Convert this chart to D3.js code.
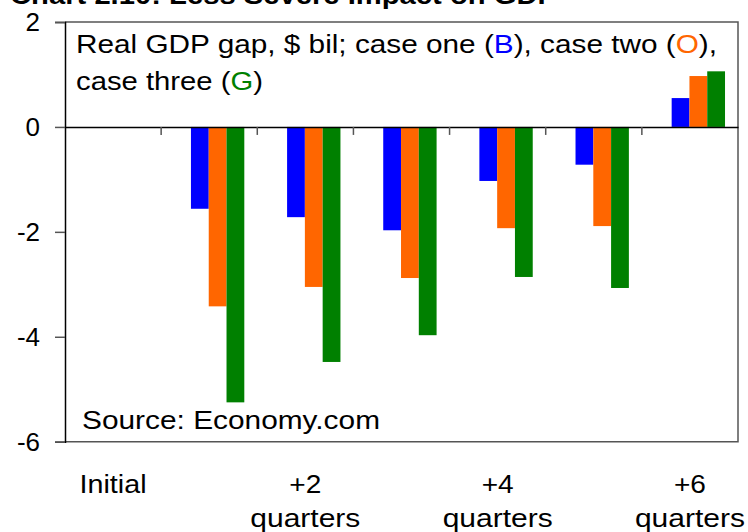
<!DOCTYPE html>
<html>
<head>
<meta charset="utf-8">
<script src="https://cdn.jsdelivr.net/npm/d3@7"></script>
<style>
  body { margin: 0; background: #fff; }
  svg { display: block; font-family: Arial, "Liberation Sans", sans-serif; }
</style>
</head>
<body>
<div id="plot"></div>
<script>
// chart data
var categories = ["Initial", "+1", "+2", "+3", "+4", "+5", "+6"];
var catLabels = [["Initial"], [], ["+2", "quarters"], [], ["+4", "quarters"], [], ["+6", "quarters"]];
var series = ["case one", "case two", "case three"];
var colors = ["#0000ff", "#ff6600", "#008000"];
var caseOne = [0, -1.56, -1.72, -1.97, -1.03, -0.72, 0.55];
var caseTwo = [0, -3.42, -3.05, -2.88, -1.93, -1.89, 0.97];
var caseThree = [0, -5.25, -4.48, -3.97, -2.86, -3.07, 1.06];
var yTicks = [2, 0, -2, -4, -6];

var values = [caseOne, caseTwo, caseThree];
var rows = categories.map(function (c, i) {
    return { cat: c, vals: series.map(function (s, j) { return { s: s, v: values[j][i], color: colors[j] }; }) };
});

var w = 748, h = 532;
var pLeft = 65, pRight = 738, pTop = 22, pBottom = 441.7;

var svg = d3.select("#plot")
    .append("svg")
    .attr("width", w)
    .attr("height", h);

var x0 = d3.scaleBand()
    .domain(categories)
    .range([pLeft, pRight])
    .padding(0);

var bw = x0.bandwidth();
var x1 = d3.scaleBand()
    .domain(series)
    .range([bw * 0.31, bw * 0.865])
    .padding(0);

var y = d3.scaleLinear()
    .domain([-6, 2])
    .range([pBottom, pTop]);

// title (cut at the top of the picture)
svg.append("text")
    .attr("x", 10)
    .attr("y", 4)
    .attr("font-size", 25)
    .attr("font-weight", "bold")
    .attr("textLength", 547)
    .attr("lengthAdjust", "spacingAndGlyphs")
    .text("Chart 2.10: Less Severe Impact on GDP");

// bars
var groups = svg.selectAll("g.grp")
    .data(rows)
    .enter()
    .append("g")
    .attr("class", "grp")
    .attr("transform", function (d) { return "translate(" + x0(d.cat) + ",0)"; });

groups.selectAll("rect")
    .data(function (d) { return d.vals; })
    .enter()
    .append("rect")
    .attr("x", function (d) { return x1(d.s); })
    .attr("width", x1.bandwidth())
    .attr("y", function (d) { return y(Math.max(0, d.v)); })
    .attr("height", function (d) { return Math.abs(y(d.v) - y(0)); })
    .attr("fill", function (d) { return d.color; });

// frame (top, right, bottom)
svg.append("path")
    .attr("d", "M" + pLeft + "," + y(2) + "H" + pRight + "V" + y(-6) + "H" + pLeft)
    .attr("fill", "none")
    .attr("stroke", "#555")
    .attr("stroke-width", 1.5);

// y axis
var yAxis = d3.axisLeft(y)
    .tickValues(yTicks)
    .tickSize(10)
    .tickPadding(15)
    .tickFormat(function (d) { return String(d); });

var gy = svg.append("g")
    .attr("transform", "translate(" + pLeft + ",0)")
    .call(yAxis);
gy.select(".domain").attr("stroke", "#000").attr("stroke-width", 1.5);
gy.selectAll(".tick line").attr("stroke", "#555").attr("stroke-width", 1.5);
gy.selectAll(".tick text")
    .attr("font-size", 26)
    .attr("font-family", "Arial, 'Liberation Sans', sans-serif")
    .attr("fill", "#000");

// x axis on zero line, ticks between categories
var xAxis = d3.axisBottom(x0).tickSize(0).tickFormat("");
var gx = svg.append("g")
    .attr("transform", "translate(0," + y(0) + ")")
    .call(xAxis);
gx.select(".domain").attr("stroke", "#000").attr("stroke-width", 1.5);

gx.selectAll("line.sep")
    .data(categories.slice(1))
    .enter()
    .append("line")
    .attr("class", "sep")
    .attr("x1", function (d) { return x0(d); })
    .attr("x2", function (d) { return x0(d); })
    .attr("y1", 0)
    .attr("y2", 8)
    .attr("stroke", "#555")
    .attr("stroke-width", 1.5);

// category labels below the plot
var lab = svg.selectAll("text.cat")
    .data(categories)
    .enter()
    .append("text")
    .attr("class", "cat")
    .attr("text-anchor", "middle")
    .attr("font-size", 26)
    .attr("x", function (d) { return x0(d) + bw / 2; })
    .attr("y", 493);

lab.selectAll("tspan")
    .data(function (d, i) { return catLabels[i]; })
    .enter()
    .append("tspan")
    .attr("x", function () { return d3.select(this.parentNode).attr("x"); })
    .attr("dy", function (d, i) { return i === 0 ? 0 : 34; })
    .attr("textLength", function (d) { return d === "quarters" ? 110 : (d === "Initial" ? 67 : 32); })
    .attr("lengthAdjust", "spacingAndGlyphs")
    .text(function (d) { return d; });

// legend note inside the plot
var note = svg.append("text")
    .attr("x", 76)
    .attr("y", 53)
    .attr("font-size", 26)
    .attr("textLength", 641)
    .attr("lengthAdjust", "spacingAndGlyphs");
var parts = [
    ["Real GDP gap, $ bil; case one (", "#000"], ["B", colors[0]], ["), case two (", "#000"],
    ["O", colors[1]], ["),", "#000"]
];
parts.forEach(function (p) { note.append("tspan").attr("fill", p[1]).text(p[0]); });

var note2 = svg.append("text")
    .attr("x", 76)
    .attr("y", 90)
    .attr("font-size", 26)
    .attr("textLength", 187)
    .attr("lengthAdjust", "spacingAndGlyphs");
[["case three (", "#000"], ["G", colors[2]], [")", "#000"]].forEach(function (p) {
    note2.append("tspan").attr("fill", p[1]).text(p[0]);
});

svg.append("text")
    .attr("x", 82)
    .attr("y", 429)
    .attr("font-size", 26)
    .attr("textLength", 298)
    .attr("lengthAdjust", "spacingAndGlyphs")
    .text("Source: Economy.com");
</script>
</body>
</html>
